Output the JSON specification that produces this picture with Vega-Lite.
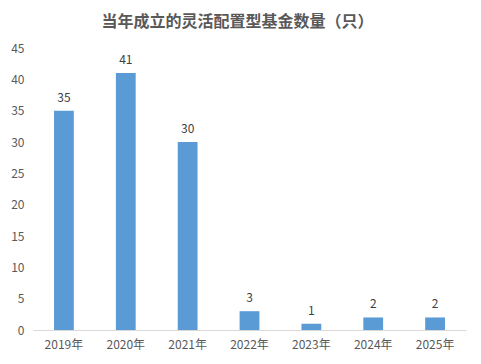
{
  "$schema": "https://vega.github.io/schema/vega-lite/v6.json",
  "width": 433,
  "height": 282,
  "autosize": {"type": "none"},
  "padding": {"left": 33, "top": 48, "right": 15, "bottom": 34},
  "background": "white",
  "title": {
    "text": "当年成立的灵活配置型基金数量（只）",
    "font": "Noto Sans CJK SC",
    "fontSize": 16,
    "fontWeight": "bold",
    "color": "#595959",
    "anchor": "middle",
    "dx": -12,
    "offset": 12
  },
  "config": {
    "view": {"stroke": null},
    "font": "Noto Sans CJK SC"
  },
  "data": {
    "values": [
      {"year": "2019年", "count": 35},
      {"year": "2020年", "count": 41},
      {"year": "2021年", "count": 30},
      {"year": "2022年", "count": 3},
      {"year": "2023年", "count": 1},
      {"year": "2024年", "count": 2},
      {"year": "2025年", "count": 2}
    ]
  },
  "encoding": {
    "x": {
      "field": "year",
      "type": "nominal",
      "sort": null,
      "scale": {"paddingInner": 0.68, "paddingOuter": 0.34},
      "axis": {
        "title": null,
        "labelAngle": 0,
        "ticks": false,
        "domainColor": "#D9D9D9",
        "labelColor": "#595959",
        "labelFontSize": 12,
        "labelPadding": 9,
        "labelFont": "Noto Sans CJK SC"
      }
    },
    "y": {
      "field": "count",
      "type": "quantitative",
      "scale": {"domain": [0, 45]},
      "axis": {
        "title": null,
        "values": [0, 5, 10, 15, 20, 25, 30, 35, 40, 45],
        "grid": false,
        "domain": false,
        "ticks": false,
        "labelColor": "#595959",
        "labelFontSize": 12,
        "labelPadding": 9,
        "labelFont": "Noto Sans CJK SC"
      }
    }
  },
  "layer": [
    {"mark": {"type": "bar", "color": "#5B9BD5"}},
    {
      "mark": {"type": "text", "dy": -13, "fontSize": 12, "color": "#404040", "font": "Noto Sans CJK SC"},
      "encoding": {"text": {"field": "count", "type": "quantitative"}}
    }
  ]
}
